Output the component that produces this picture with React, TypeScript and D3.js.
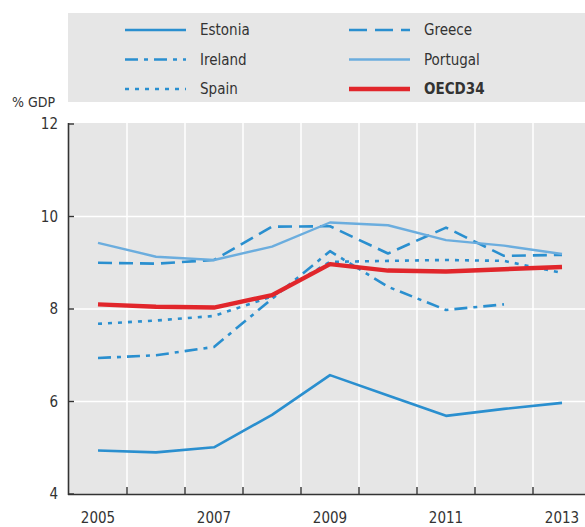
import React from "react";
import * as d3 from "d3";

const years = [2005, 2006, 2007, 2008, 2009, 2010, 2011, 2012, 2013];
const estonia = [4.94, 4.9, 5.01, 5.71, 6.57, 6.13, 5.69, 5.84, 5.97];
const greece = [9.0, 8.98, 9.06, 9.78, 9.79, 9.2, 9.76, 9.15, 9.17];
const ireland: (number | null)[] = [6.94, 7.0, 7.18, 8.22, 9.25, 8.48, 7.98, 8.1, null];
const portugal = [9.43, 9.13, 9.06, 9.35, 9.87, 9.81, 9.49, 9.37, 9.19];
const spain = [7.68, 7.75, 7.85, 8.27, 9.02, 9.04, 9.06, 9.04, 8.78];
const oecd = [8.1, 8.05, 8.03, 8.3, 8.97, 8.83, 8.81, 8.86, 8.91];
const yTicks = [4, 6, 8, 10, 12];
const xLabels = [2005, 2007, 2009, 2011, 2013];

const BLUE = "#2a8fcf";
const LIGHTBLUE = "#6badde";
const RED = "#e1262b";
const GRID_BG = "#e6e6e6";
const AXIS = "#333333";
const FONT = "'Liberation Sans Narrow', 'DejaVu Sans Condensed', 'Roboto Condensed', Arial, sans-serif";

type Series = { name: string; values: (number | null)[]; color: string; width: number; dash?: string; bold?: boolean };

const series: Series[] = [
  { name: "Estonia", values: estonia, color: BLUE, width: 2.6 },
  { name: "Ireland", values: ireland, color: BLUE, width: 2.6, dash: "13 6 4 6" },
  { name: "Spain", values: spain, color: BLUE, width: 2.6, dash: "4 6" },
  { name: "Greece", values: greece, color: BLUE, width: 2.6, dash: "14 7" },
  { name: "Portugal", values: portugal, color: LIGHTBLUE, width: 2.4 },
  { name: "OECD34", values: oecd, color: RED, width: 4.5, bold: true },
];

const legendOrder = [
  ["Estonia", "Greece"],
  ["Ireland", "Portugal"],
  ["Spain", "OECD34"],
];

export default function App() {
  const W = 585, H = 527;
  const left = 68, bottom = 494, top = 123;
  const x = d3.scaleBand<number>().domain(years).range([69, 69 + 9 * 58]);
  const y = d3.scaleLinear().domain([4, 12]).range([bottom, 124]);
  const cx = (yr: number) => (x(yr) as number) + x.bandwidth() / 2;

  const line = d3
    .line<number | null>()
    .defined((d) => d !== null)
    .x((_, i) => cx(years[i]))
    .y((d) => y(d as number));

  const boundaries = years.slice(1).map((yr) => x(yr) as number);
  const byName = (n: string) => series.find((s) => s.name === n)!;

  return (
    <svg width={W} height={H} style={{ position: "absolute", left: 0, top: 0, background: "#fff" }} fontFamily={FONT}>
      {/* legend */}
      <rect x={68} y={13} width={W - 68} height={89} fill={GRID_BG} />
      {legendOrder.map((row, ri) =>
        row.map((name, ci) => {
          const s = byName(name);
          const ly = 30 + ri * 29.5;
          const lx = ci === 0 ? 125 : 349;
          return (
            <g key={name}>
              <line x1={lx} x2={lx + 61} y1={ly} y2={ly} stroke={s.color} strokeWidth={s.bold ? 4.5 : 2.6} strokeDasharray={s.name === "Greece" ? "18 8" : s.dash} />
              <text x={lx + 75} y={ly + 5} fontSize={15} fill="#333" fontWeight={s.bold ? "bold" : "normal"}>
                {name}
              </text>
            </g>
          );
        })
      )}

      {/* plot background */}
      <rect x={left} y={top} width={W - left} height={bottom - top} fill={GRID_BG} />
      {boundaries.map((b) => (
        <line key={b} x1={b} x2={b} y1={top} y2={bottom} stroke="#fff" strokeWidth={1.5} />
      ))}
      {yTicks.slice(1, -1).map((t) => (
        <line key={t} x1={left} x2={W} y1={y(t)} y2={y(t)} stroke="#fff" strokeWidth={1.5} />
      ))}

      {/* axes */}
      <line x1={left + 0.5} x2={left + 0.5} y1={top} y2={bottom + 1} stroke={AXIS} strokeWidth={1.6} />
      <line x1={left} x2={W} y1={bottom + 0.5} y2={bottom + 0.5} stroke={AXIS} strokeWidth={1.6} />
      {yTicks.map((t) => (
        <line key={t} x1={left} x2={left + 6} y1={y(t)} y2={y(t)} stroke={AXIS} strokeWidth={1.4} />
      ))}
      {boundaries.map((b) => (
        <line key={"t" + b} x1={b} x2={b} y1={bottom} y2={bottom - 7} stroke={AXIS} strokeWidth={1.4} />
      ))}
      {yTicks.map((t) => (
        <text key={"l" + t} x={58} y={y(t) + 5} fontSize={15} textAnchor="end" fill="#333">
          {t}
        </text>
      ))}
      <text x={12} y={107} fontSize={14} fill="#333">% GDP</text>
      {xLabels.map((yr) => (
        <text key={yr} x={cx(yr)} y={523} fontSize={15} textAnchor="middle" fill="#333">
          {yr}
        </text>
      ))}

      {/* series */}
      {series.map((s) => (
        <path
          key={s.name}
          d={line(s.values) || ""}
          fill="none"
          stroke={s.color}
          strokeWidth={s.width}
          strokeDasharray={s.dash}
          strokeLinejoin="round"
        />
      ))}
    </svg>
  );
}
